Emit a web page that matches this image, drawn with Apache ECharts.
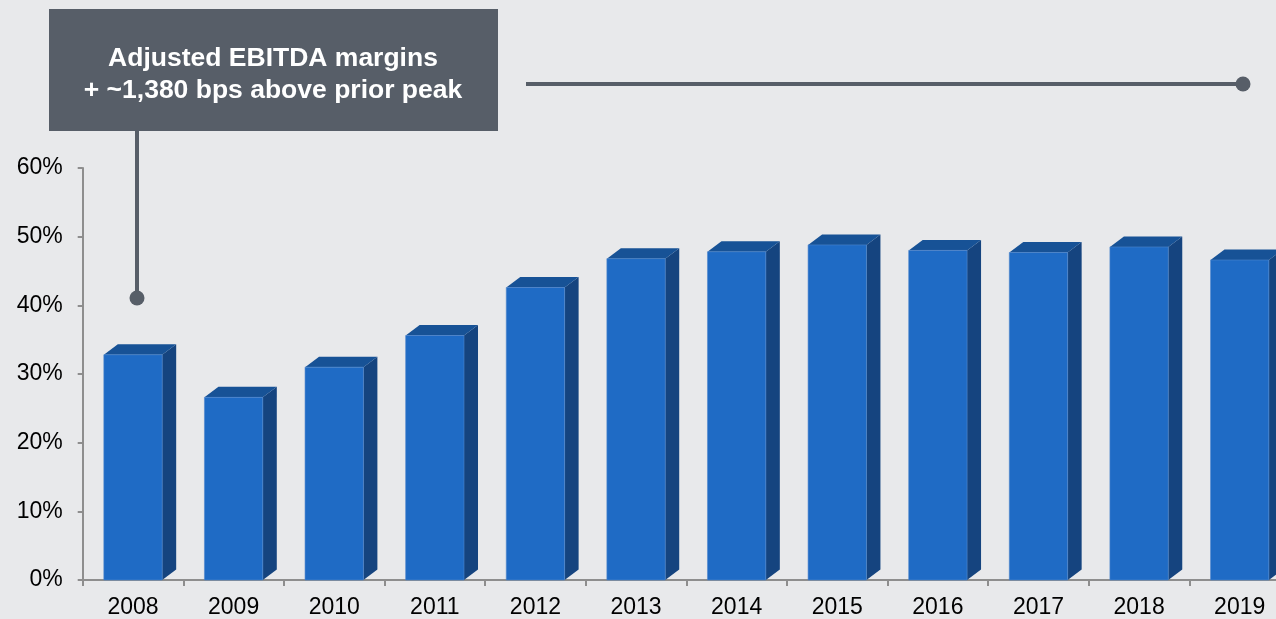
<!DOCTYPE html>
<html>
<head>
<meta charset="utf-8">
<title>Adjusted EBITDA margins</title>
<script src="https://cdn.jsdelivr.net/npm/echarts@6/dist/echarts.min.js"></script>
<style>
  html, body { margin: 0; padding: 0; background: #e8e9eb; overflow: hidden; }
  /* the last bar runs past the right edge of the picture */
  #main { width: 1290px; height: 619px; }
</style>
</head>
<body>
<div id="main"></div>
<script>
// data
var years = ['2008', '2009', '2010', '2011', '2012', '2013', '2014', '2015', '2016', '2017', '2018', '2019'];
var margins = [32.8, 26.6, 31.0, 35.6, 42.6, 46.8, 47.8, 48.8, 48.0, 47.7, 48.5, 46.6];
var noteLines = ['Adjusted EBITDA margins', '+ ~1,380 bps above prior peak'];

var chart = echarts.init(document.getElementById('main'));

// 3d look: front face, right side and top
var depthX = 14, depthY = 10.5;
function renderBar(params, api) {
  var top = api.coord([api.value(0), api.value(1)]);
  var base = api.coord([api.value(0), 0]);
  var w = api.size([1, 0])[0] * 0.58;
  var l = top[0] - w / 2, r = top[0] + w / 2;
  return {
    type: 'group',
    children: [
      {
        type: 'polygon',
        shape: { points: [[r, top[1]], [r + depthX, top[1] - depthY], [r + depthX, base[1] - depthY], [r, base[1]]] },
        style: { fill: '#15447f' }
      },
      {
        type: 'polygon',
        shape: { points: [[l, top[1]], [l + depthX, top[1] - depthY], [r + depthX, top[1] - depthY], [r, top[1]]] },
        style: { fill: '#175296' }
      },
      {
        type: 'rect',
        shape: { x: l, y: top[1], width: w, height: base[1] - top[1] },
        style: { fill: '#1f6bc5', stroke: '#4f86cc', lineWidth: 0.6 }
      }
    ]
  };
}

var boxColor = '#575e68';

chart.setOption({
  backgroundColor: '#e8e9eb',
  animation: false,
  grid: { left: 82.7, right: 0, top: 168, bottom: 38.5 },
  xAxis: {
    type: 'category',
    data: years,
    axisLine: { lineStyle: { color: '#8e8e8e', width: 2 } },
    axisTick: { show: true, length: 6, lineStyle: { color: '#8e8e8e', width: 2 } },
    axisLabel: { color: '#000', fontSize: 23, fontFamily: 'Liberation Sans, Arial', margin: 16 }
  },
  yAxis: {
    type: 'value',
    min: 0,
    max: 60,
    interval: 10,
    splitLine: { show: false },
    axisLine: { show: true, lineStyle: { color: '#8e8e8e', width: 2 } },
    axisTick: { show: true, length: 5, lineStyle: { color: '#8e8e8e', width: 2 } },
    axisLabel: { color: '#000', fontSize: 23, fontFamily: 'Liberation Sans, Arial', margin: 20, formatter: '{value}%' }
  },
  series: [{
    type: 'custom',
    renderItem: renderBar,
    data: years.map(function (y, i) { return [i, margins[i]]; }),
    encode: { x: 0, y: 1 }
  }],
  graphic: [
    { type: 'rect', shape: { x: 49, y: 9, width: 449, height: 122 }, style: { fill: boxColor } },
    {
      type: 'text', x: 273, y: 75,
      style: {
        text: noteLines.join('\n'), fill: '#fff', font: 'bold 26.5px Liberation Sans, Arial',
        lineHeight: 32, align: 'center', verticalAlign: 'middle'
      }
    },
    { type: 'line', shape: { x1: 137, y1: 131, x2: 137, y2: 298 }, style: { stroke: boxColor, lineWidth: 4 } },
    { type: 'circle', shape: { cx: 137, cy: 298, r: 7.5 }, style: { fill: boxColor } },
    { type: 'line', shape: { x1: 526, y1: 84, x2: 1243, y2: 84 }, style: { stroke: boxColor, lineWidth: 4 } },
    { type: 'circle', shape: { cx: 1243, cy: 84, r: 7.5 }, style: { fill: boxColor } }
  ]
});
</script>
</body>
</html>
